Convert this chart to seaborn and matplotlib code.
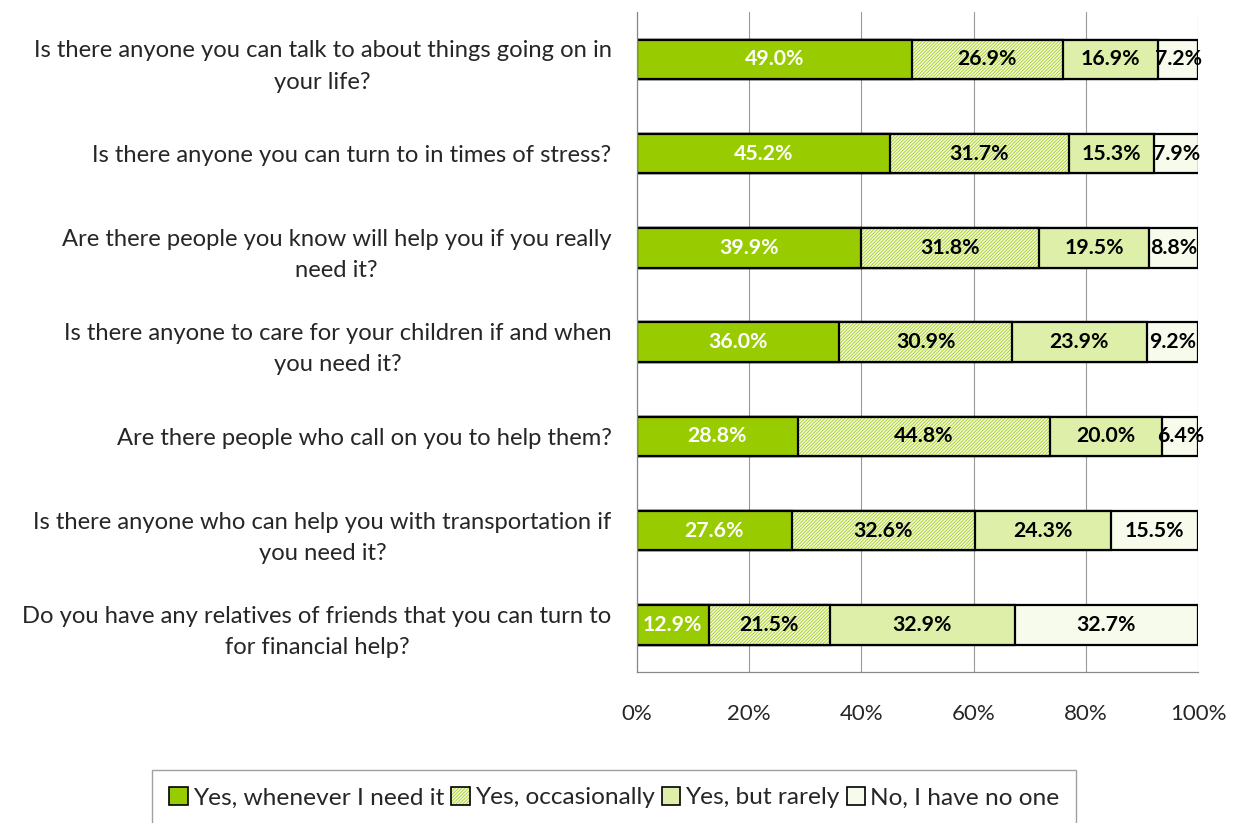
import matplotlib
matplotlib.use("Agg")
import matplotlib.pyplot as plt
from matplotlib.colors import to_rgba
from matplotlib.patches import Patch
import numpy as np
import pandas as pd
import seaborn as sns

questions = [
    "Is there anyone you can talk to about things going on in\nyour life?",
    "Is there anyone you can turn to in times of stress?",
    "Are there people you know will help you if you really\nneed it?",
    "Is there anyone to care for your children if and when\nyou need it?",
    "Are there people who call on you to help them?",
    "Is there anyone who can help you with transportation if\nyou need it?",
    "Do you have any relatives of friends that you can turn to\nfor financial help?",
]
series_names = ["Yes, whenever I need it", "Yes, occasionally", "Yes, but rarely", "No, I have no one"]
whenever = [49.0, 45.2, 39.9, 36.0, 28.8, 27.6, 12.9]
occasionally = [26.9, 31.7, 31.8, 30.9, 44.8, 32.6, 21.5]
rarely = [16.9, 15.3, 19.5, 23.9, 20.0, 24.3, 32.9]
no_one = [7.2, 7.9, 8.8, 9.2, 6.4, 15.5, 32.7]
x_ticks = [0, 20, 40, 60, 80, 100]

sns.set_style("white")
plt.rcParams["font.family"] = ["Lato", "DejaVu Sans"]
plt.rcParams["hatch.linewidth"] = 0.6

fills = ["#99CC00", "#F2F9DE", "#DDEFA8", "#F7FBEC"]
hatches = [None, "//////////", None, None]
label_colors = ["white", "black", "black", "black"]

values = np.array([whenever, occasionally, rarely, no_one])
cum = np.cumsum(values, axis=0)

fig = plt.figure(figsize=(12.36, 8.23), dpi=100)
ax = fig.add_axes([0.515, 0.1835, 0.4545, 0.8015])

# Stack by layering cumulative bars, longest first
for i in range(3, -1, -1):
    df = pd.DataFrame({"q": questions, "v": cum[i]})
    before = len(ax.patches)
    sns.barplot(data=df, x="v", y="q", orient="h", color=fills[i], saturation=1,
                width=0.42, edgecolor="black", linewidth=1.6, ax=ax)
    for p in ax.patches[before:]:
        p.set_facecolor(fills[i])
        if hatches[i]:
            p.set_hatch(hatches[i])
            p._hatch_color = to_rgba("#A6D11A")

# Segment labels
for i in range(4):
    for j in range(len(questions)):
        left = cum[i][j] - values[i][j]
        ax.text(left + values[i][j] / 2, j, f"{values[i][j]:.1f}%", ha="center", va="center",
                fontsize=15.3, fontweight="bold", color=label_colors[i], clip_on=False)

ax.set_xlim(0, 100)
ax.set_ylim(len(questions) - 0.5, -0.5)
ax.set_xticks(x_ticks)
ax.set_xticklabels([f"{t}%" for t in x_ticks], fontsize=16)
ax.set_xlabel("")
ax.set_ylabel("")
ax.tick_params(axis="y", which="major", length=0, labelsize=17.1, pad=18)
ax.set_yticks(np.arange(-0.5, len(questions), 1.0), minor=True)
ax.tick_params(axis="y", which="minor", length=7, color="#888888", direction="out")
ax.tick_params(axis="x", which="major", length=7, color="#888888", direction="out", pad=16)
for lab in ax.get_yticklabels():
    lab.set_multialignment("center")
    lab.set_linespacing(1.6)
ax.xaxis.grid(True, color="#999999", linewidth=0.8)
ax.set_axisbelow(True)
for s in ["top", "right"]:
    ax.spines[s].set_visible(False)
for s in ["left", "bottom"]:
    ax.spines[s].set_color("#888888")
    ax.spines[s].set_linewidth(0.9)

handles = []
for i in range(4):
    h = Patch(facecolor=fills[i], edgecolor="black", linewidth=1.2, hatch=hatches[i])
    handles.append(h)
leg = fig.legend(handles, series_names, loc="lower center", bbox_to_anchor=(0.497, -0.018), ncol=4,
                 fontsize=17.6, frameon=True, fancybox=False, edgecolor="#888888",
                 handlelength=0.75, handleheight=0.75, handletextpad=0.2, columnspacing=0.3,
                 borderpad=0.7)
for h in leg.legend_handles:
    if h.get_hatch():
        h._hatch_color = to_rgba("#A6D11A")

fig.savefig("out.png", dpi=100)
